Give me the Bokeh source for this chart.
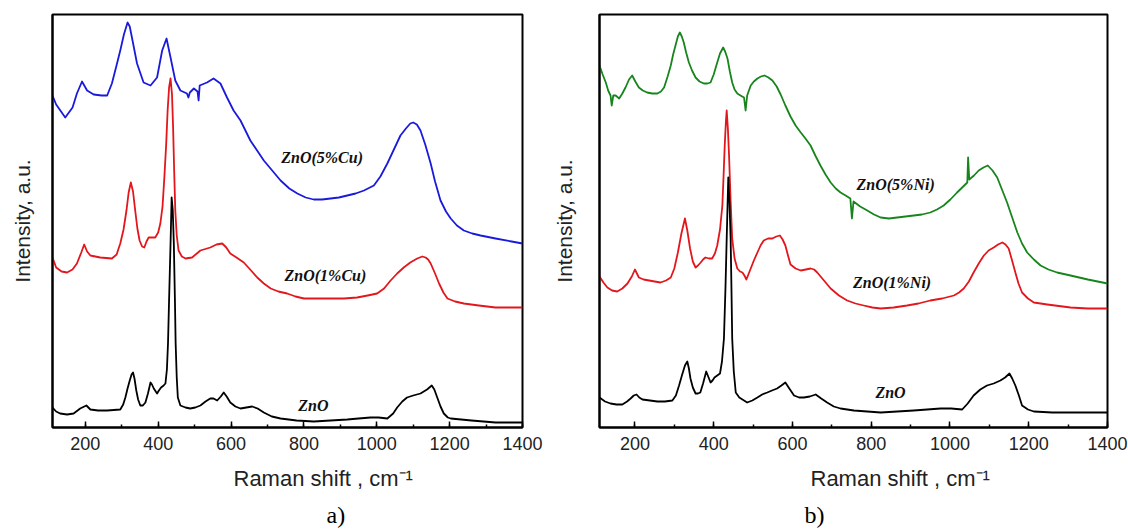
from bokeh.plotting import figure
from bokeh.layouts import row
from bokeh.models import Range1d, SingleIntervalTicker, FixedTicker, Title
from bokeh.core.properties import value
from bokeh.embed import file_html
from bokeh.resources import INLINE

# ---------------- data (Raman shift cm^-1, intensity a.u.) ----------------
x_ticks_interval = 200

# panel a)
a_cu5 = [(110,339),(120,330),(145,317),(165,327),(177,341),(191,353),(205,344),(223,340),(245,339),(260,339),
         (273,351),(285,368),(296,384),(306,400),(316,412),(322,408),(328,397),(342,371),(360,352),(379,349),
         (397,357),(411,384),(423,396),(434,377),(447,354),(461,344),(479,341),(483,337),(487,342),(498,346),
         (508,343),(511,334),(514,349),(534,352),(552,356),(571,351),(589,337),(607,324),(626,314),(653,294),
         (690,274),(713,264),(736,254),(760,246),(782,241),(805,237),(827,235),(850,235),(873,236),(896,237),
         (919,239),(942,241),(965,244),(992,249),(1010,258),(1029,271),(1047,285),(1065,299),(1080,306),
         (1092,311),(1100,312),(1110,310),(1120,304),(1133,290),(1148,271),(1160,253),(1175,234),(1190,223),
         (1203,216),(1220,209),(1239,204),(1262,201),(1285,199),(1326,196),(1370,193),(1400,191)]
a_cu1 = [(110,177),(120,167),(135,163),(150,162),(165,165),(177,171),(189,182),(197,190),(205,183),(214,179),
         (241,177),(273,176),(286,180),(296,191),(305,205),(313,224),(319,242),(325,252),(331,243),(337,224),
         (343,206),(349,194),(356,188),(362,187),(368,193),(374,197),(392,197),(400,202),(406,211),(412,228),
         (417,257),(422,290),(426,324),(430,347),(434,356),(438,340),(441,307),(444,263),(447,224),(451,199),
         (456,184),(465,178),(475,176),(493,177),(516,184),(543,187),(560,190),(576,191),(587,187),(598,181),
         (615,177),(635,172),(655,164),(672,157),(690,151),(709,146),(730,143),(754,141),(777,138),(800,136),
         (837,136),(873,136),(910,136),(946,137),(975,139),(1001,141),(1020,146),(1038,154),(1056,161),
         (1074,167),(1092,172),(1111,176),(1125,178),(1134,177),(1141,175),(1148,171),(1160,161),(1171,151),
         (1183,142),(1194,136),(1215,133),(1239,131),(1280,129),(1326,127),(1400,127)]
a_zno = [(110,27),(120,23),(131,21),(150,20),(168,21),(186,26),(203,29),(214,25),(235,24),(260,24),(296,25),
         (304,30),(310,37),(316,46),(322,54),(327,60),(331,62),(335,56),(340,44),(345,35),(351,29),(358,29),
         (365,32),(372,41),(379,52),(383,50),(388,46),(397,41),(402,44),(408,47),(415,49),(420,51),(424,65),
         (427,91),(430,135),(434,191),(437,237),(440,225),(443,191),(446,135),(448,91),(451,57),(454,37),
         (461,29),(475,27),(488,26),(502,27),(516,29),(530,33),(543,36),(552,36),(562,34),(572,38),(580,42),
         (588,38),(598,32),(612,28),(626,26),(642,27),(658,28),(673,26),(690,22),(712,18),(736,16),(780,14),
         (827,13),(873,14),(919,15),(950,16),(983,17),(1005,17),(1029,16),(1045,21),(1056,27),(1070,33),
         (1083,37),(1100,39),(1120,41),(1138,45),(1151,49),(1158,45),(1166,37),(1175,28),(1184,21),(1195,17),
         (1203,16),(1260,14),(1326,12),(1400,12)]
a_labels = ["ZnO(5%Cu)", "ZnO(1%Cu)", "ZnO"]
a_label_x = [850, 859, 826]
a_label_y = [277, 159, 29]

# panel b)
b_ni5 = [(110,361),(118,352),(126,344),(132,336),(138,331),(141,321),(145,331),(151,331),(160,328),(168,333),
         (176,339),(185,347),(193,351),(201,345),(210,339),(220,336),(231,334),(244,333),(257,333),(266,335),
         (274,339),(283,350),(291,361),(297,372),(303,381),(309,390),(314,394),(319,390),(324,384),(330,374),
         (337,364),(345,356),(354,349),(364,345),(375,343),(384,343),(392,344),(400,352),(409,364),(416,373),
         (424,379),(429,375),(435,368),(441,355),(447,344),(453,337),(460,333),(468,331),(477,329),(481,316),
         (485,331),(494,341),(502,345),(511,348),(520,350),(529,351),(539,349),(549,346),(560,340),(570,332),
         (582,321),(595,310),(608,301),(621,294),(633,288),(646,281),(658,271),(671,261),(684,252),(697,244),
         (710,238),(722,234),(735,231),(747,228),(751,208),(755,225),(772,220),(790,216),(807,212),(824,209),
         (845,208),(866,209),(887,210),(908,211),(929,212),(950,214),(967,217),(984,221),(1001,227),(1018,234),
         (1031,239),(1044,244),(1046,269),(1049,247),(1061,251),(1073,256),(1085,259),(1096,261),(1108,256),
         (1120,249),(1132,237),(1145,224),(1158,209),(1171,194),(1183,183),(1196,174),(1213,167),(1230,161),
         (1250,157),(1272,154),(1306,151),(1350,147),(1400,143)]
b_ni1 = [(110,150),(120,144),(130,139),(142,136),(155,135),(168,138),(181,143),(192,150),(200,157),(205,153),
         (210,149),(222,147),(236,146),(250,145),(265,144),(279,146),(291,149),(300,158),(309,174),(318,193),
         (327,208),(333,196),(340,178),(347,165),(354,159),(360,161),(367,164),(373,167),(379,169),(388,168),
         (396,168),(403,173),(409,181),(416,197),(422,221),(425,250),(428,281),(431,305),(433,316),(436,298),
         (439,271),(443,225),(447,188),(453,168),(460,158),(467,155),(473,154),(478,151),(483,147),(488,152),
         (494,158),(502,166),(511,174),(519,181),(527,186),(538,188),(549,188),(559,190),(568,191),(575,187),
         (582,181),(588,172),(595,162),(608,158),(621,156),(634,157),(646,158),(655,157),(663,154),(680,146),
         (697,138),(718,131),(739,126),(760,123),(781,121),(803,119),(824,118),(857,119),(891,121),(920,123),
         (950,126),(980,128),(1010,131),(1023,134),(1035,138),(1048,145),(1060,154),(1073,163),(1086,171),
         (1098,176),(1111,179),(1122,182),(1133,184),(1141,182),(1149,178),(1157,167),(1166,154),(1174,143),
         (1183,134),(1198,128),(1213,124),(1247,122),(1306,119),(1350,118),(1400,118)]
b_zno = [(110,29),(124,25),(138,23),(153,22),(168,22),(180,25),(189,28),(197,31),(204,32),(211,29),(219,27),
         (238,26),(257,25),(276,25),(295,26),(304,31),(312,41),(320,52),(327,61),(333,65),(337,58),(341,48),
         (347,39),(354,33),(360,33),(366,34),(373,43),(381,55),(386,50),(392,44),(397,46),(402,49),(409,51),
         (416,53),(421,65),(426,88),(430,140),(433,188),(437,249),(440,225),(443,188),(445,140),(447,88),
         (451,55),(456,34),(465,29),(473,27),(485,24),(498,26),(511,29),(523,32),(536,34),(548,36),(561,38),
         (572,41),(582,44),(592,38),(604,31),(617,29),(629,29),(644,30),(659,32),(673,28),(688,24),(705,20),
         (722,18),(739,17),(756,16),(790,15),(824,14),(866,15),(908,16),(942,17),(976,18),(1003,18),(1031,17),
         (1045,23),(1060,31),(1077,37),(1094,41),(1111,43),(1128,46),(1140,49),(1151,53),(1158,48),(1166,41),
         (1175,31),(1183,21),(1198,17),(1213,15),(1260,14),(1306,14),(1400,14)]
b_labels = ["ZnO(5%Ni)", "ZnO(1%Ni)", "ZnO"]
b_label_x = [862, 853, 849]
b_label_y = [242, 144, 34]

x_title = "Raman shift , cm⁻¹"
y_title = "Intensity, a.u."

SANS = "Liberation Sans"
SERIF = "Liberation Serif"


def make_panel(width, borders, yrange, series, labels, lx, ly,
               letter, letter_offset, xt_offset, ylab_standoff):
    left, right, top, bottom = borders
    p = figure(width=width, height=529, output_backend="svg", toolbar_location=None,
               x_range=Range1d(110, 1400), y_range=Range1d(*yrange),
               min_border_left=left, min_border_right=right, min_border_top=top, min_border_bottom=bottom)
    p.grid.visible = False
    p.outline_line_color = "black"
    p.outline_line_width = 2
    p.outline_line_alpha = 1
    p.background_fill_color = "white"
    p.border_fill_color = "white"

    for pts, color in series:
        xs = [q[0] for q in pts]
        ys = [q[1] for q in pts]
        p.line(xs, ys, line_color=color, line_width=1.8, line_join="round")

    p.text(x=lx, y=ly, text=labels, text_align="center", text_baseline="middle",
           text_font=value(SERIF), text_font_style="bold italic", text_font_size="16px",
           text_color="#111111")

    xa = p.xaxis[0]
    xa.ticker = SingleIntervalTicker(interval=x_ticks_interval, num_minor_ticks=2)
    xa.axis_line_color = "black"
    xa.axis_line_width = 2
    xa.major_tick_in = 6
    xa.major_tick_out = 0
    xa.minor_tick_in = 3
    xa.minor_tick_out = 0
    xa.major_tick_line_width = 1.5
    xa.minor_tick_line_width = 1.5
    xa.major_label_standoff = 9
    xa.major_label_text_font = SANS
    xa.major_label_text_font_size = "18px"
    xa.major_label_text_color = "#222222"

    ya = p.yaxis[0]
    ya.ticker = FixedTicker(ticks=[])
    ya.axis_line_color = "black"
    ya.axis_line_width = 2
    ya.major_tick_line_color = None
    ya.minor_tick_line_color = None
    ya.major_label_standoff = 0
    ya.axis_label = y_title
    ya.axis_label_text_font = SANS
    ya.axis_label_text_font_size = "21px"
    ya.axis_label_text_font_style = "normal"
    ya.axis_label_text_color = "#222222"
    ya.axis_label_standoff = ylab_standoff

    p.add_layout(Title(text=x_title, align="left", offset=xt_offset, vertical_align="bottom",
                       text_font=SANS, text_font_size="22px", text_font_style="normal",
                       text_color="#222222", standoff=22), "below")
    p.add_layout(Title(text=letter, align="left", offset=letter_offset, vertical_align="top",
                       text_font=SERIF, text_font_size="24px", text_font_style="normal",
                       text_color="black", standoff=0), "below")
    return p


pa = make_panel(549, (52, 27, 14, 102), (7, 420),
                [(a_cu5, "#1a1adc"), (a_cu1, "#e3161b"), (a_zno, "black")],
                a_labels, a_label_x, a_label_y, "a)", 274, 181, 19)
pb = make_panel(579, (50, 21, 14, 102), (-1, 412),
                [(b_ni5, "#17851c"), (b_ni1, "#e3161b"), (b_zno, "black")],
                b_labels, b_label_x, b_label_y, "b)", 205, 211, 24)

layout = row(pa, pb)
open("out.html", "w").write(file_html(layout, INLINE))
